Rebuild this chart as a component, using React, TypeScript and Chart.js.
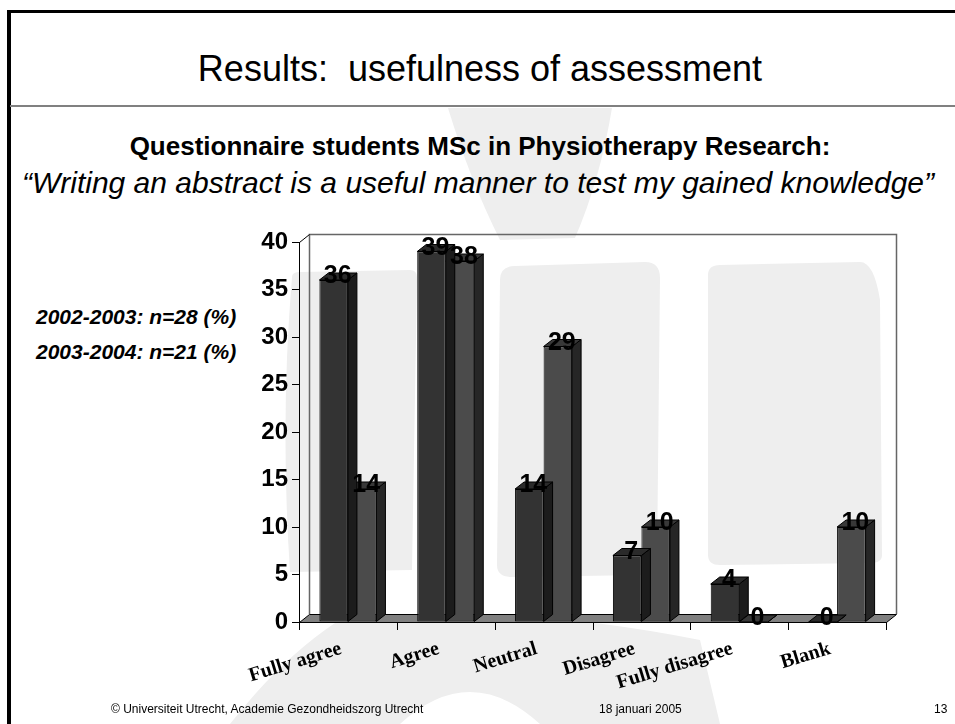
import React, { useEffect, useRef } from "react";
import { Chart, registerables } from "chart.js";

Chart.register(...registerables);

// ---------- data ----------
const categories = ["Fully agree", "Agree", "Neutral", "Disagree", "Fully disagree", "Blank"];
const series2002 = [36, 39, 14, 7, 4, 0];
const series2003 = [14, 38, 29, 10, 0, 10];
const seriesNames = ["2002-2003: n=28 (%)", "2003-2004: n=21 (%)"];
const yMin = 0;
const yMax = 40;
const yStep = 5;

const titleText = "Results:\u00a0 usefulness of assessment";
const subtitleText = "Questionnaire students MSc in Physiotherapy Research:";
const quoteText = "\u201cWriting an abstract is a useful manner to test my gained knowledge\u201d";
const footerLeft = "\u00a9 Universiteit Utrecht, Academie Gezondheidszorg Utrecht";
const footerDate = "18 januari 2005";
const footerPage = "13";

// ---------- styling ----------
const frontColors = ["#333333", "#4b4b4b"];
const sideColors = ["#1c1c1c", "#262626"];
const topColors = ["#2a2a2a", "#383838"];
const WALL_DX = 10;
const WALL_DY = -8;
const BAR_DX = 9;
const BAR_DY = -7;
const SANS = "Arial, 'Liberation Sans', Helvetica, sans-serif";
const SERIF = "'Times New Roman', 'Liberation Serif', serif";

const threeDPlugin = {
  id: "threeD",
  beforeDatasetsDraw(chart: any) {
    const { ctx, chartArea: a } = chart;
    ctx.save();
    // back wall
    ctx.lineWidth = 1.5;
    ctx.strokeStyle = "#666666";
    ctx.beginPath();
    ctx.moveTo(a.left + WALL_DX + 0.5, a.bottom + WALL_DY);
    ctx.lineTo(a.left + WALL_DX + 0.5, a.top + WALL_DY + 0.5);
    ctx.lineTo(a.right + WALL_DX + 0.5, a.top + WALL_DY + 0.5);
    ctx.lineTo(a.right + WALL_DX + 0.5, a.bottom + WALL_DY);
    ctx.stroke();
    // left wall top edge
    ctx.lineWidth = 1;
    ctx.strokeStyle = "#000000";
    ctx.beginPath();
    ctx.moveTo(a.left + 0.5, a.top + 0.5);
    ctx.lineTo(a.left + WALL_DX + 0.5, a.top + WALL_DY + 0.5);
    ctx.stroke();
    // floor
    ctx.beginPath();
    ctx.moveTo(a.left + 0.5, a.bottom + 0.5);
    ctx.lineTo(a.right + 0.5, a.bottom + 0.5);
    ctx.lineTo(a.right + WALL_DX + 0.5, a.bottom + WALL_DY + 0.5);
    ctx.lineTo(a.left + WALL_DX + 0.5, a.bottom + WALL_DY + 0.5);
    ctx.closePath();
    ctx.fillStyle = "#808080";
    ctx.fill();
    ctx.strokeStyle = "#000000";
    ctx.stroke();
    // category boundary ticks
    const n = chart.data.labels.length;
    const w = (a.right - a.left) / n;
    ctx.beginPath();
    for (let i = 0; i <= n; i++) {
      const px = Math.round(a.left + i * w) + 0.5;
      ctx.moveTo(px, a.bottom);
      ctx.lineTo(px, a.bottom + 8);
    }
    ctx.stroke();
    ctx.restore();
  },
  afterDatasetDraw(chart: any, args: any) {
    const { ctx } = chart;
    const di = args.index;
    const meta = args.meta;
    ctx.save();
    ctx.lineWidth = 1;
    ctx.strokeStyle = "#000000";
    meta.data.forEach((bar: any) => {
      const { x, y, base, width } = bar.getProps(["x", "y", "base", "width"], true);
      const l = x - width / 2;
      const r = x + width / 2;
      // side face
      ctx.beginPath();
      ctx.moveTo(r, y);
      ctx.lineTo(r + BAR_DX, y + BAR_DY);
      ctx.lineTo(r + BAR_DX, base + BAR_DY);
      ctx.lineTo(r, base);
      ctx.closePath();
      ctx.fillStyle = sideColors[di];
      ctx.fill();
      ctx.stroke();
      // top face
      ctx.beginPath();
      ctx.moveTo(l, y);
      ctx.lineTo(l + BAR_DX, y + BAR_DY);
      ctx.lineTo(r + BAR_DX, y + BAR_DY);
      ctx.lineTo(r, y);
      ctx.closePath();
      ctx.fillStyle = topColors[di];
      ctx.fill();
      ctx.stroke();
    });
    ctx.restore();
  },
  afterDatasetsDraw(chart: any) {
    const { ctx } = chart;
    ctx.save();
    ctx.font = `bold 25px ${SANS}`;
    ctx.fillStyle = "#000000";
    ctx.textAlign = "center";
    ctx.textBaseline = "alphabetic";
    chart.data.datasets.forEach((ds: any, di: number) => {
      const meta = chart.getDatasetMeta(di);
      meta.data.forEach((bar: any, i: number) => {
        const { x, y } = bar.getProps(["x", "y"], true);
        ctx.fillText(String(ds.data[i]), x + 4, y + 3);
      });
    });
    ctx.restore();
  },
};

function ChartCanvas() {
  const ref = useRef<HTMLCanvasElement>(null);
  useEffect(() => {
    if (!ref.current) return;
    const chart = new Chart(ref.current, {
      type: "bar",
      data: {
        labels: categories,
        datasets: [
          {
            label: seriesNames[0],
            data: series2002,
            backgroundColor: frontColors[0],
            borderColor: "#000000",
            borderWidth: 1,
            borderSkipped: false,
          },
          {
            label: seriesNames[1],
            data: series2003,
            backgroundColor: frontColors[1],
            borderColor: "#000000",
            borderWidth: 1,
            borderSkipped: false,
          },
        ],
      },
      options: {
        responsive: false,
        animation: false,
        devicePixelRatio: 1,
        layout: { padding: { top: 27, right: 44, left: 0, bottom: 0 } },
        datasets: { bar: { barPercentage: 1, categoryPercentage: 0.583 } },
        plugins: { legend: { display: false }, tooltip: { enabled: false }, title: { display: false } },
        scales: {
          x: {
            grid: { display: false, drawTicks: false },
            border: { display: false },
            ticks: {
              autoSkip: false,
              maxRotation: 17,
              minRotation: 17,
              padding: 15,
              labelOffset: -7,
              color: "#000000",
              font: { family: SERIF, weight: "bold", size: 20 },
            },
            afterFit: (s: any) => {
              s.height = 83;
            },
          },
          y: {
            min: yMin,
            max: yMax,
            grid: { drawOnChartArea: false, drawTicks: true, tickLength: 7, color: "#000000" },
            border: { display: true, color: "#000000", width: 1 },
            ticks: {
              stepSize: yStep,
              padding: 4,
              color: "#000000",
              font: { family: SANS, weight: "bold", size: 24 },
            },
            afterFit: (s: any) => {
              s.width = 69;
            },
          },
        },
      },
      plugins: [threeDPlugin],
    });
    return () => chart.destroy();
  }, []);
  return (
    <canvas
      ref={ref}
      width={700}
      height={490}
      style={{ position: "absolute", left: 230, top: 215, width: 700, height: 490 }}
    />
  );
}

const grayFill = "#eeeeee";

function Watermark() {
  return (
    <svg width={955} height={724} style={{ position: "absolute", left: 0, top: 0 }}>
      <path d="M448,108 L612,108 Q600,180 575,238 L500,240 Q470,180 448,108 Z" fill={grayFill} />
      <path d="M292,277 Q292,272 300,272 L410,270 Q418,270 417,280 L412,570 L290,572 Q280,420 292,277 Z" fill={grayFill} />
      <path d="M500,280 Q500,266 515,266 L645,262 Q660,262 660,278 L657,565 Q657,575 645,575 L512,577 Q497,577 497,565 Z" fill={grayFill} />
      <path d="M708,275 Q708,265 720,265 L860,262 Q874,262 880,300 L882,555 Q882,563 870,563 L720,565 Q708,565 708,555 Z" fill={grayFill} />
      <path d="M335,623 Q500,600 700,640 L720,724 L540,724 Q470,660 400,724 L230,724 Q280,660 335,623 Z" fill={grayFill} />
    </svg>
  );
}

export default function App() {
  const textBase: React.CSSProperties = { position: "absolute", whiteSpace: "nowrap", color: "#000000" };
  return (
    <div
      style={{
        position: "absolute",
        left: 0,
        top: 0,
        width: 955,
        height: 724,
        overflow: "hidden",
        background: "#ffffff",
        fontFamily: SANS,
      }}
    >
      <Watermark />
      {/* slide frame */}
      <div
        style={{
          position: "absolute",
          left: 7,
          top: 10,
          width: 1100,
          height: 900,
          borderTop: "3px solid #000",
          borderLeft: "4px solid #000",
        }}
      />
      <div style={{ position: "absolute", left: 10, top: 105, width: 960, height: 2, background: "#808080" }} />
      <div style={{ ...textBase, left: 0, width: 960, textAlign: "center", top: 51, fontSize: 36, lineHeight: "36px" }}>
        {titleText}
      </div>
      <div
        style={{
          ...textBase,
          left: 0,
          width: 960,
          textAlign: "center",
          top: 133,
          fontSize: 26,
          lineHeight: "26px",
          fontWeight: "bold",
        }}
      >
        {subtitleText}
      </div>
      <div
        style={{
          ...textBase,
          left: 0,
          width: 956,
          textAlign: "center",
          top: 168,
          fontSize: 30,
          lineHeight: "30px",
          fontStyle: "italic",
        }}
      >
        {quoteText}
      </div>
      <div style={{ ...textBase, left: 36, top: 306, fontSize: 21, lineHeight: "21px", fontWeight: "bold", fontStyle: "italic" }}>
        {seriesNames[0]}
      </div>
      <div style={{ ...textBase, left: 36, top: 341, fontSize: 21, lineHeight: "21px", fontWeight: "bold", fontStyle: "italic" }}>
        {seriesNames[1]}
      </div>
      <ChartCanvas />
      <div style={{ ...textBase, left: 111, top: 703, fontSize: 12, lineHeight: "12px" }}>{footerLeft}</div>
      <div style={{ ...textBase, left: 599, top: 703, fontSize: 12, lineHeight: "12px" }}>{footerDate}</div>
      <div style={{ ...textBase, left: 934, top: 703, fontSize: 12, lineHeight: "12px" }}>{footerPage}</div>
    </div>
  );
}
